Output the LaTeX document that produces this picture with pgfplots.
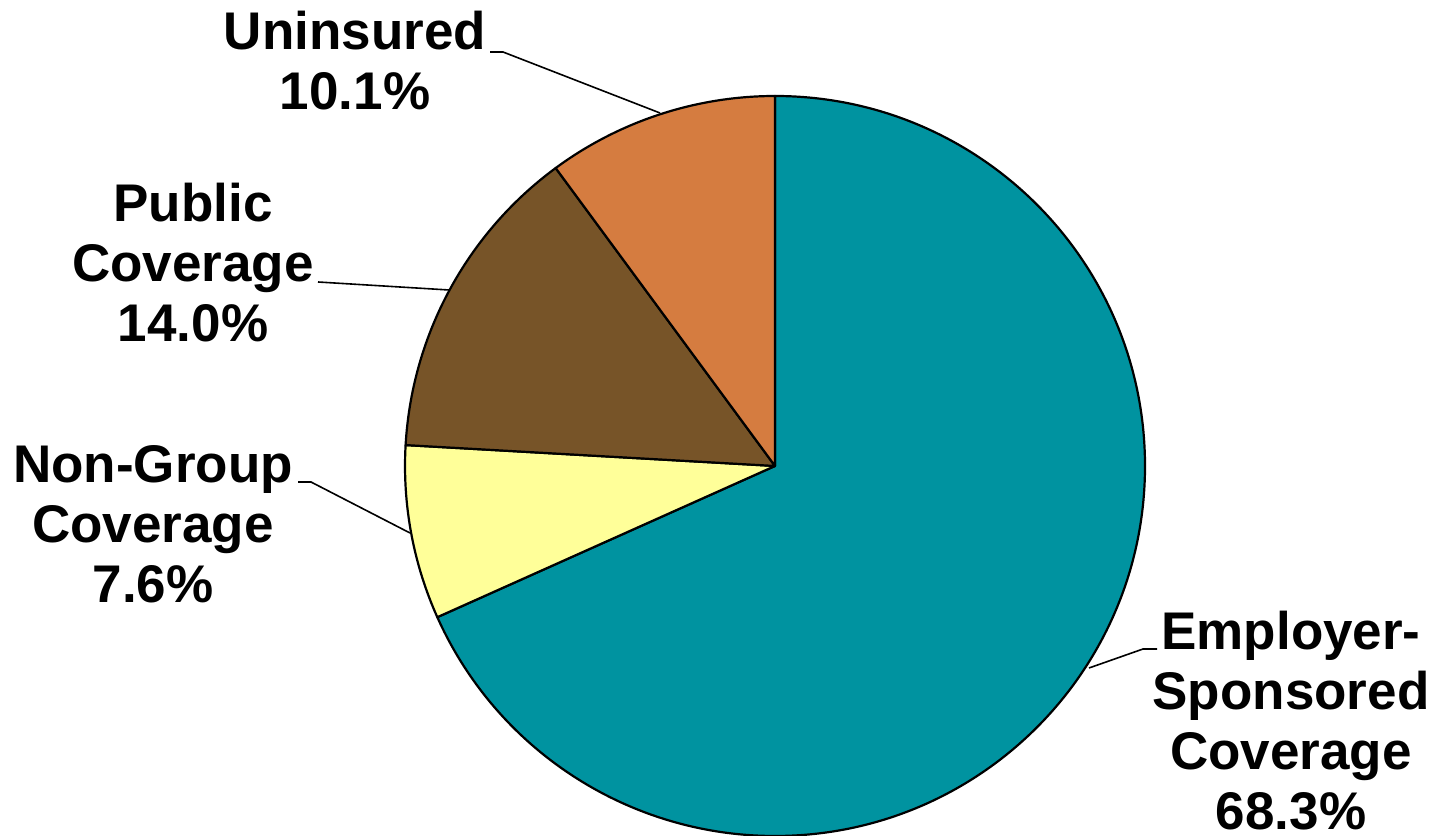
\documentclass[border=0pt]{standalone}
\usepackage{pgfplots}
\usepackage{pgfplotstable}
\pgfplotsset{compat=1.18}
\usepackage{fontspec}
\setmainfont{Liberation Sans}
\definecolor{cEmp}{HTML}{0093A0}
\definecolor{cNon}{HTML}{FFFF99}
\definecolor{cPub}{HTML}{775428}
\definecolor{cUni}{HTML}{D57C40}

\pgfplotstableread{
label value
Employer 68.3
NonGroup 7.6
Public 14.0
Uninsured 10.1
}\piedata

\pgfplotstablegetelem{0}{value}\of\piedata\let\vA\pgfplotsretval
\pgfplotstablegetelem{1}{value}\of\piedata\let\vB\pgfplotsretval
\pgfplotstablegetelem{2}{value}\of\piedata\let\vC\pgfplotsretval
\pgfplotstablegetelem{3}{value}\of\piedata\let\vD\pgfplotsretval
\pgfmathsetmacro\aZero{90}
\pgfmathsetmacro\aOne{\aZero-3.6*\vA}
\pgfmathsetmacro\aTwo{\aOne-3.6*\vB}
\pgfmathsetmacro\aThree{\aTwo-3.6*\vC}
\pgfmathsetmacro\aFour{\aThree-3.6*\vD}

\newcommand\lab[3]{\node[anchor=base,inner sep=0pt,font=\fontsize{26.5bp}{30bp}\selectfont\bfseries] at (axis cs:#1,#2) {#3};}

\begin{document}
\begin{tikzpicture}
\begin{axis}[name=ax,
  scale only axis, width=718.5bp, height=418bp,
  xmin=0, xmax=1437, ymin=0, ymax=836,
  hide axis, clip=false]
% slices (center at pixel (775,466), radius 370 px = 185bp)
\filldraw[fill=cEmp, draw=black, line width=1.1bp, line join=round]
  (axis cs:775,370) -- ++(\aZero:185bp) arc[start angle=\aZero, end angle=\aOne, radius=185bp] -- cycle;
\filldraw[fill=cNon, draw=black, line width=1.1bp, line join=round]
  (axis cs:775,370) -- ++(\aOne:185bp) arc[start angle=\aOne, end angle=\aTwo, radius=185bp] -- cycle;
\filldraw[fill=cPub, draw=black, line width=1.1bp, line join=round]
  (axis cs:775,370) -- ++(\aTwo:185bp) arc[start angle=\aTwo, end angle=\aThree, radius=185bp] -- cycle;
\filldraw[fill=cUni, draw=black, line width=1.1bp, line join=round]
  (axis cs:775,370) -- ++(\aThree:185bp) arc[start angle=\aThree, end angle=\aFour, radius=185bp] -- cycle;
% leader lines
\draw[line width=0.8bp] (axis cs:490,784) -- (axis cs:503,784) -- (axis cs:660,723);
\draw[line width=0.8bp] (axis cs:318,554) -- (axis cs:449,546);
\draw[line width=0.8bp] (axis cs:298,354) -- (axis cs:311,354) -- (axis cs:410,303);
\draw[line width=0.8bp] (axis cs:1157,187) -- (axis cs:1143,187) -- (axis cs:1089,168);
% labels
\lab{355}{786}{Uninsured}
\lab{355}{726}{10.1\%}
\lab{193}{614}{Public}
\lab{193}{554}{Coverage}
\lab{193}{494}{14.0\%}
\lab{153}{353}{Non-Group}
\lab{153}{293}{Coverage}
\lab{153}{233}{7.6\%}
\lab{1291}{186}{Employer-}
\lab{1291}{126}{Sponsored}
\lab{1291}{66}{Coverage}
\lab{1291}{6}{68.3\%}
\end{axis}
\pgfresetboundingbox
\path (ax.south west) rectangle (ax.north east);
\end{tikzpicture}
\end{document}
